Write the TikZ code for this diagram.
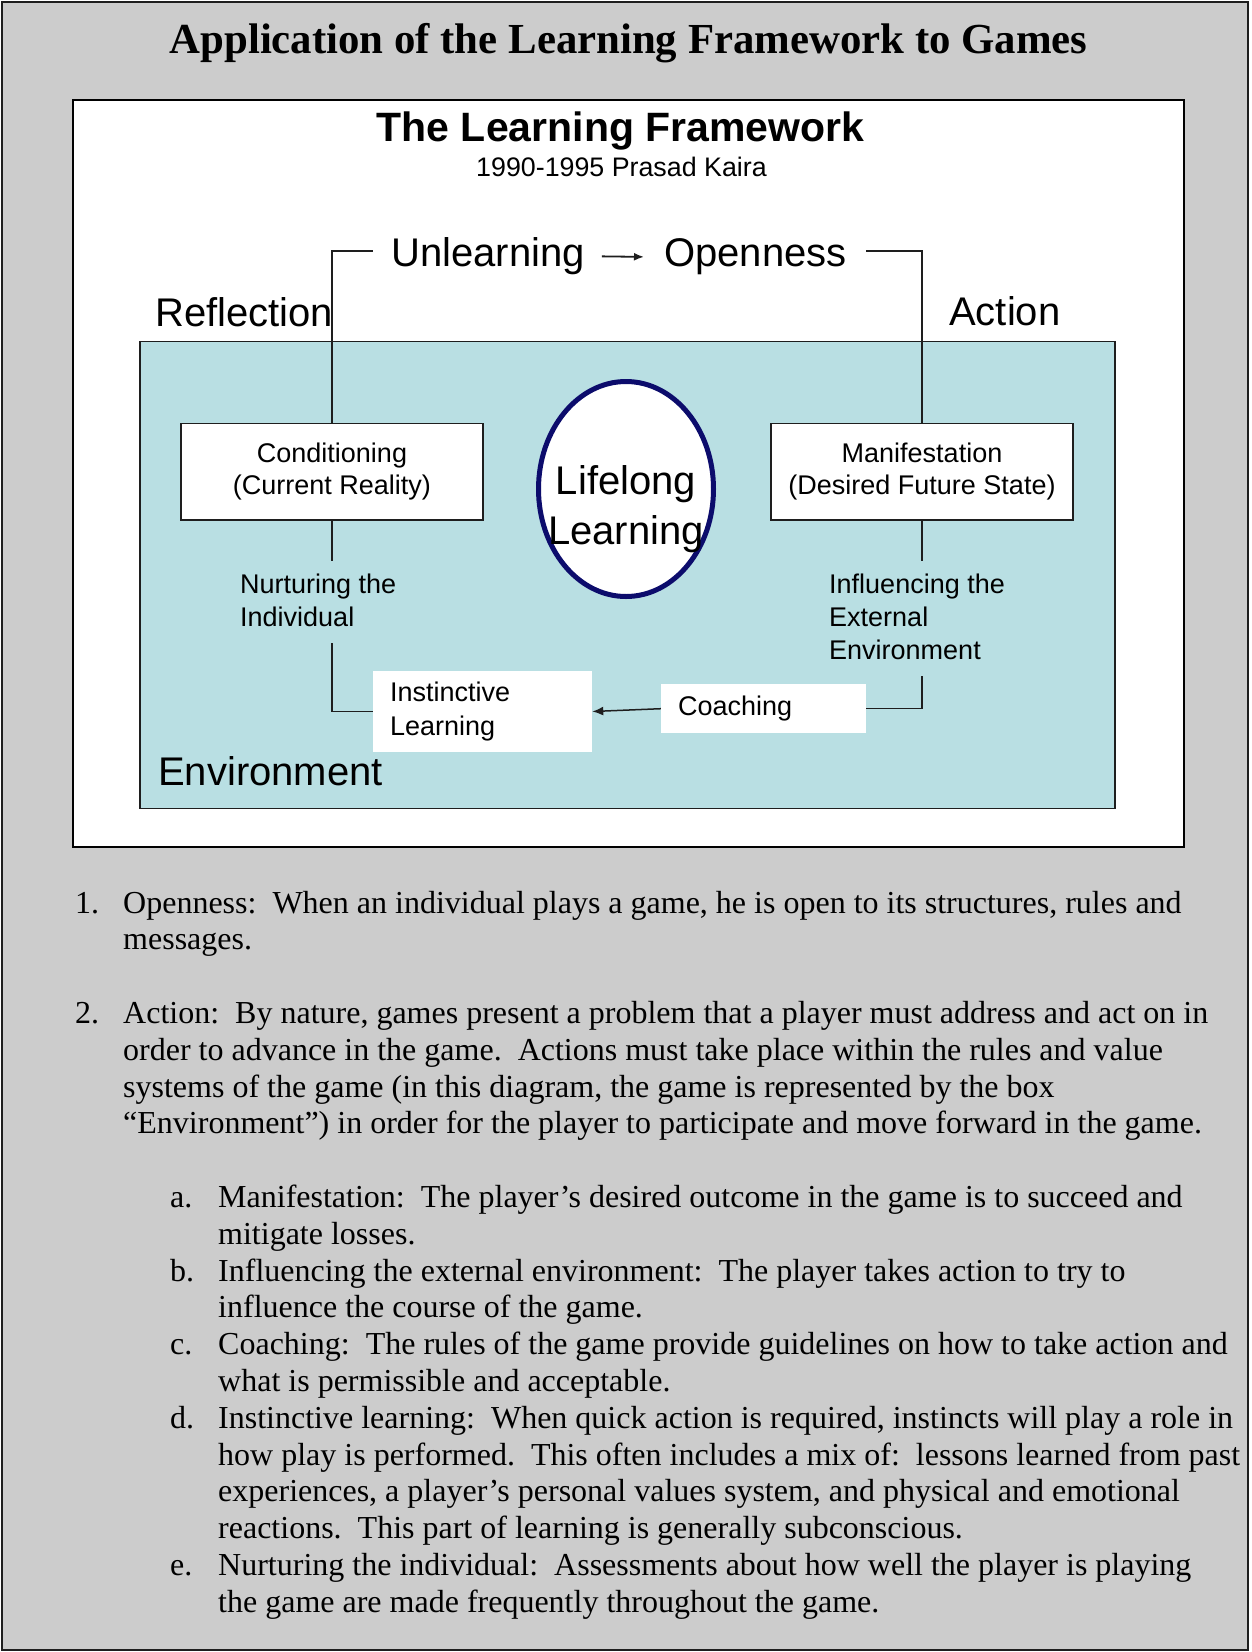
\documentclass[tikz,border=0pt]{standalone}
\usepackage{fontspec}
\setmainfont{Liberation Serif}
\newfontfamily\arialf{Liberation Sans}
\usetikzlibrary{arrows.meta,shapes.geometric}
\definecolor{pagegray}{RGB}{204,204,204}
\definecolor{envblue}{RGB}{185,223,227}
\definecolor{navyc}{RGB}{12,12,108}
\definecolor{linegray}{RGB}{30,30,30}
\frenchspacing
\tikzset{
  bodytxt/.style={font=\fontsize{32}{36.8}\selectfont, anchor=base west, inner sep=0pt},
  dbig/.style={font=\arialf\fontsize{40}{48}\selectfont, anchor=base west, inner sep=0pt},
  dsmall/.style={font=\arialf\fontsize{27}{32}\selectfont, anchor=base west, inner sep=0pt},
  conn/.style={draw=linegray, line width=1.5pt},
  wbox/.style={draw=linegray, line width=1.6pt, fill=white, align=center, inner sep=0pt,
    font=\arialf\fontsize{27}{32}\selectfont, minimum width=302pt, minimum height=96.5pt},
  pbox/.style={fill=white, inner xsep=17pt, inner ysep=0pt, align=left,
    font=\arialf\fontsize{27}{33.4}\selectfont}
}
\begin{document}
\begin{tikzpicture}[x=1pt,y=-1pt]
\useasboundingbox (0,0) rectangle (1251,1652);
% page
\node (page) [draw=linegray, line width=2pt, fill=pagegray, minimum width=1246pt, minimum height=1648pt, inner sep=0pt] at (625,826) {};
\node (title) [font=\bfseries\fontsize{42.8}{50}\selectfont, anchor=base, inner sep=0pt] at (628.5,53) {Application of the Learning Framework to Games};
% diagram frame
\node (frame) [draw=black, line width=2pt, fill=white, minimum width=1111pt, minimum height=747pt, inner sep=0pt] at (628.5,473.5) {};
\node (env) [draw=linegray, line width=1.5pt, fill=envblue, minimum width=975pt, minimum height=466.6pt, inner sep=0pt] at (627.5,575) {};
\node (ftitle) [font=\arialf\bfseries\fontsize{41}{48}\selectfont, anchor=base, inner sep=0pt] at (620.5,141) {The Learning Framework};
\node (fsub) [font=\arialf\fontsize{26.8}{32}\selectfont, anchor=base, inner sep=0pt] at (621.5,176) {1990-1995 Prasad Kaira};
\node (unl) [dbig] at (391,266.7) {Unlearning};
\node (open) [dbig] at (664,266.7) {Openness};
\node (refl) [dbig] at (155,326) {Reflection};
\node (act) [dbig] at (949,325) {Action};
\node (envlbl) [dbig] at (158,785) {Environment};
% boxes
\node (cond) [wbox] at (332,471.8) {Conditioning\\(Current Reality)};
\node (mani) [wbox] at (922,471.8) {Manifestation\\(Desired Future State)};
\node (life) [ellipse, draw=navyc, line width=5pt, fill=white, minimum width=175pt, minimum height=215pt, inner sep=0pt] at (626,489) {};
\node (lifetxt) [font=\arialf\fontsize{40}{50}\selectfont, align=center, inner sep=0pt] at (626,509) {Lifelong\\Learning};
\node (inst) [pbox, text width=185pt, minimum height=81.6pt] at (482.6,711.5) {Instinctive\\Learning};
\node (coach) [pbox, text width=171pt, minimum height=49.3pt] at (763.5,708.7) {Coaching};
\node (nurt1) [dsmall] at (240,593) {Nurturing the};
\node (nurt2) [dsmall] at (240,626.7) {Individual};
\node (infl1) [dsmall] at (829,593) {Influencing the};
\node (infl2) [dsmall] at (829,626.5) {External};
\node (infl3) [dsmall] at (829,659) {Environment};
% connectors
\coordinate (tl) at (373,251);
\coordinate (tr) at (866,251);
\coordinate (cl1) at (332,561);
\coordinate (cl2) at (332,643);
\coordinate (cr1) at (922,561);
\coordinate (cr2) at (922,676);
\draw[conn] (cond.north) |- (tl);
\draw[conn] (tr) -| (mani.north);
\draw[conn] (cond.south) -- (cl1);
\draw[conn] (cl2) |- (inst.west);
\draw[conn] (mani.south) -- (cr1);
\draw[conn] (cr2) |- (coach.east);
\draw[conn, -{Latex[length=11pt,width=9pt]}] (coach.west) -- (inst.east);
\draw[conn, line width=1.8pt, -{Latex[length=10pt,width=8pt]}] ([xshift=17pt]unl.east) -- ([xshift=-20pt]open.west);
% body text
\node (n1) [bodytxt] at (75,913) {1.};
\node (t1a) [bodytxt] at (123,913) {Openness:~ When an individual plays a game, he is open to its structures, rules and};
\node (t1b) [bodytxt] at (123,949.8) {messages.};
\node (n2) [bodytxt] at (75,1023.4) {2.};
\node (t2a) [bodytxt] at (123,1023.4) {Action:~ By nature, games present a problem that a player must address and act on in};
\node (t2b) [bodytxt] at (123,1060.2) {order to advance in the game.~ Actions must take place within the rules and value};
\node (t2c) [bodytxt] at (123,1097) {systems of the game (in this diagram, the game is represented by the box};
\node (t2d) [bodytxt] at (123,1133.8) {“Environment”) in order for the player to participate and move forward in the game.};
\node (na) [bodytxt] at (170,1207.4) {a.};
\node (tab) [bodytxt] at (218,1207.4) {Manifestation:~ The player’s desired outcome in the game is to succeed and};
\node (tac) [bodytxt] at (218,1244.2) {mitigate losses.};
\node (nb) [bodytxt] at (170,1281) {b.};
\node (tbb) [bodytxt] at (218,1281) {Influencing the external environment:~ The player takes action to try to};
\node (tbc) [bodytxt] at (218,1317.8) {influence the course of the game.};
\node (nc) [bodytxt] at (170,1354.6) {c.};
\node (tcb) [bodytxt] at (218,1354.6) {Coaching:~ The rules of the game provide guidelines on how to take action and};
\node (tcc) [bodytxt] at (218,1391.4) {what is permissible and acceptable.};
\node (nd) [bodytxt] at (170,1428.2) {d.};
\node (tdb) [bodytxt] at (218,1428.2) {Instinctive learning:~ When quick action is required, instincts will play a role in};
\node (tdc) [bodytxt] at (218,1465) {how play is performed.~ This often includes a mix of:~ lessons learned from past};
\node (tdd) [bodytxt] at (218,1501.8) {experiences, a player’s personal values system, and physical and emotional};
\node (tde) [bodytxt] at (218,1538.6) {reactions.~ This part of learning is generally subconscious.};
\node (ne) [bodytxt] at (170,1575.4) {e.};
\node (teb) [bodytxt] at (218,1575.4) {Nurturing the individual:~ Assessments about how well the player is playing};
\node (tec) [bodytxt] at (218,1612.2) {the game are made frequently throughout the game.};
\end{tikzpicture}
\end{document}
